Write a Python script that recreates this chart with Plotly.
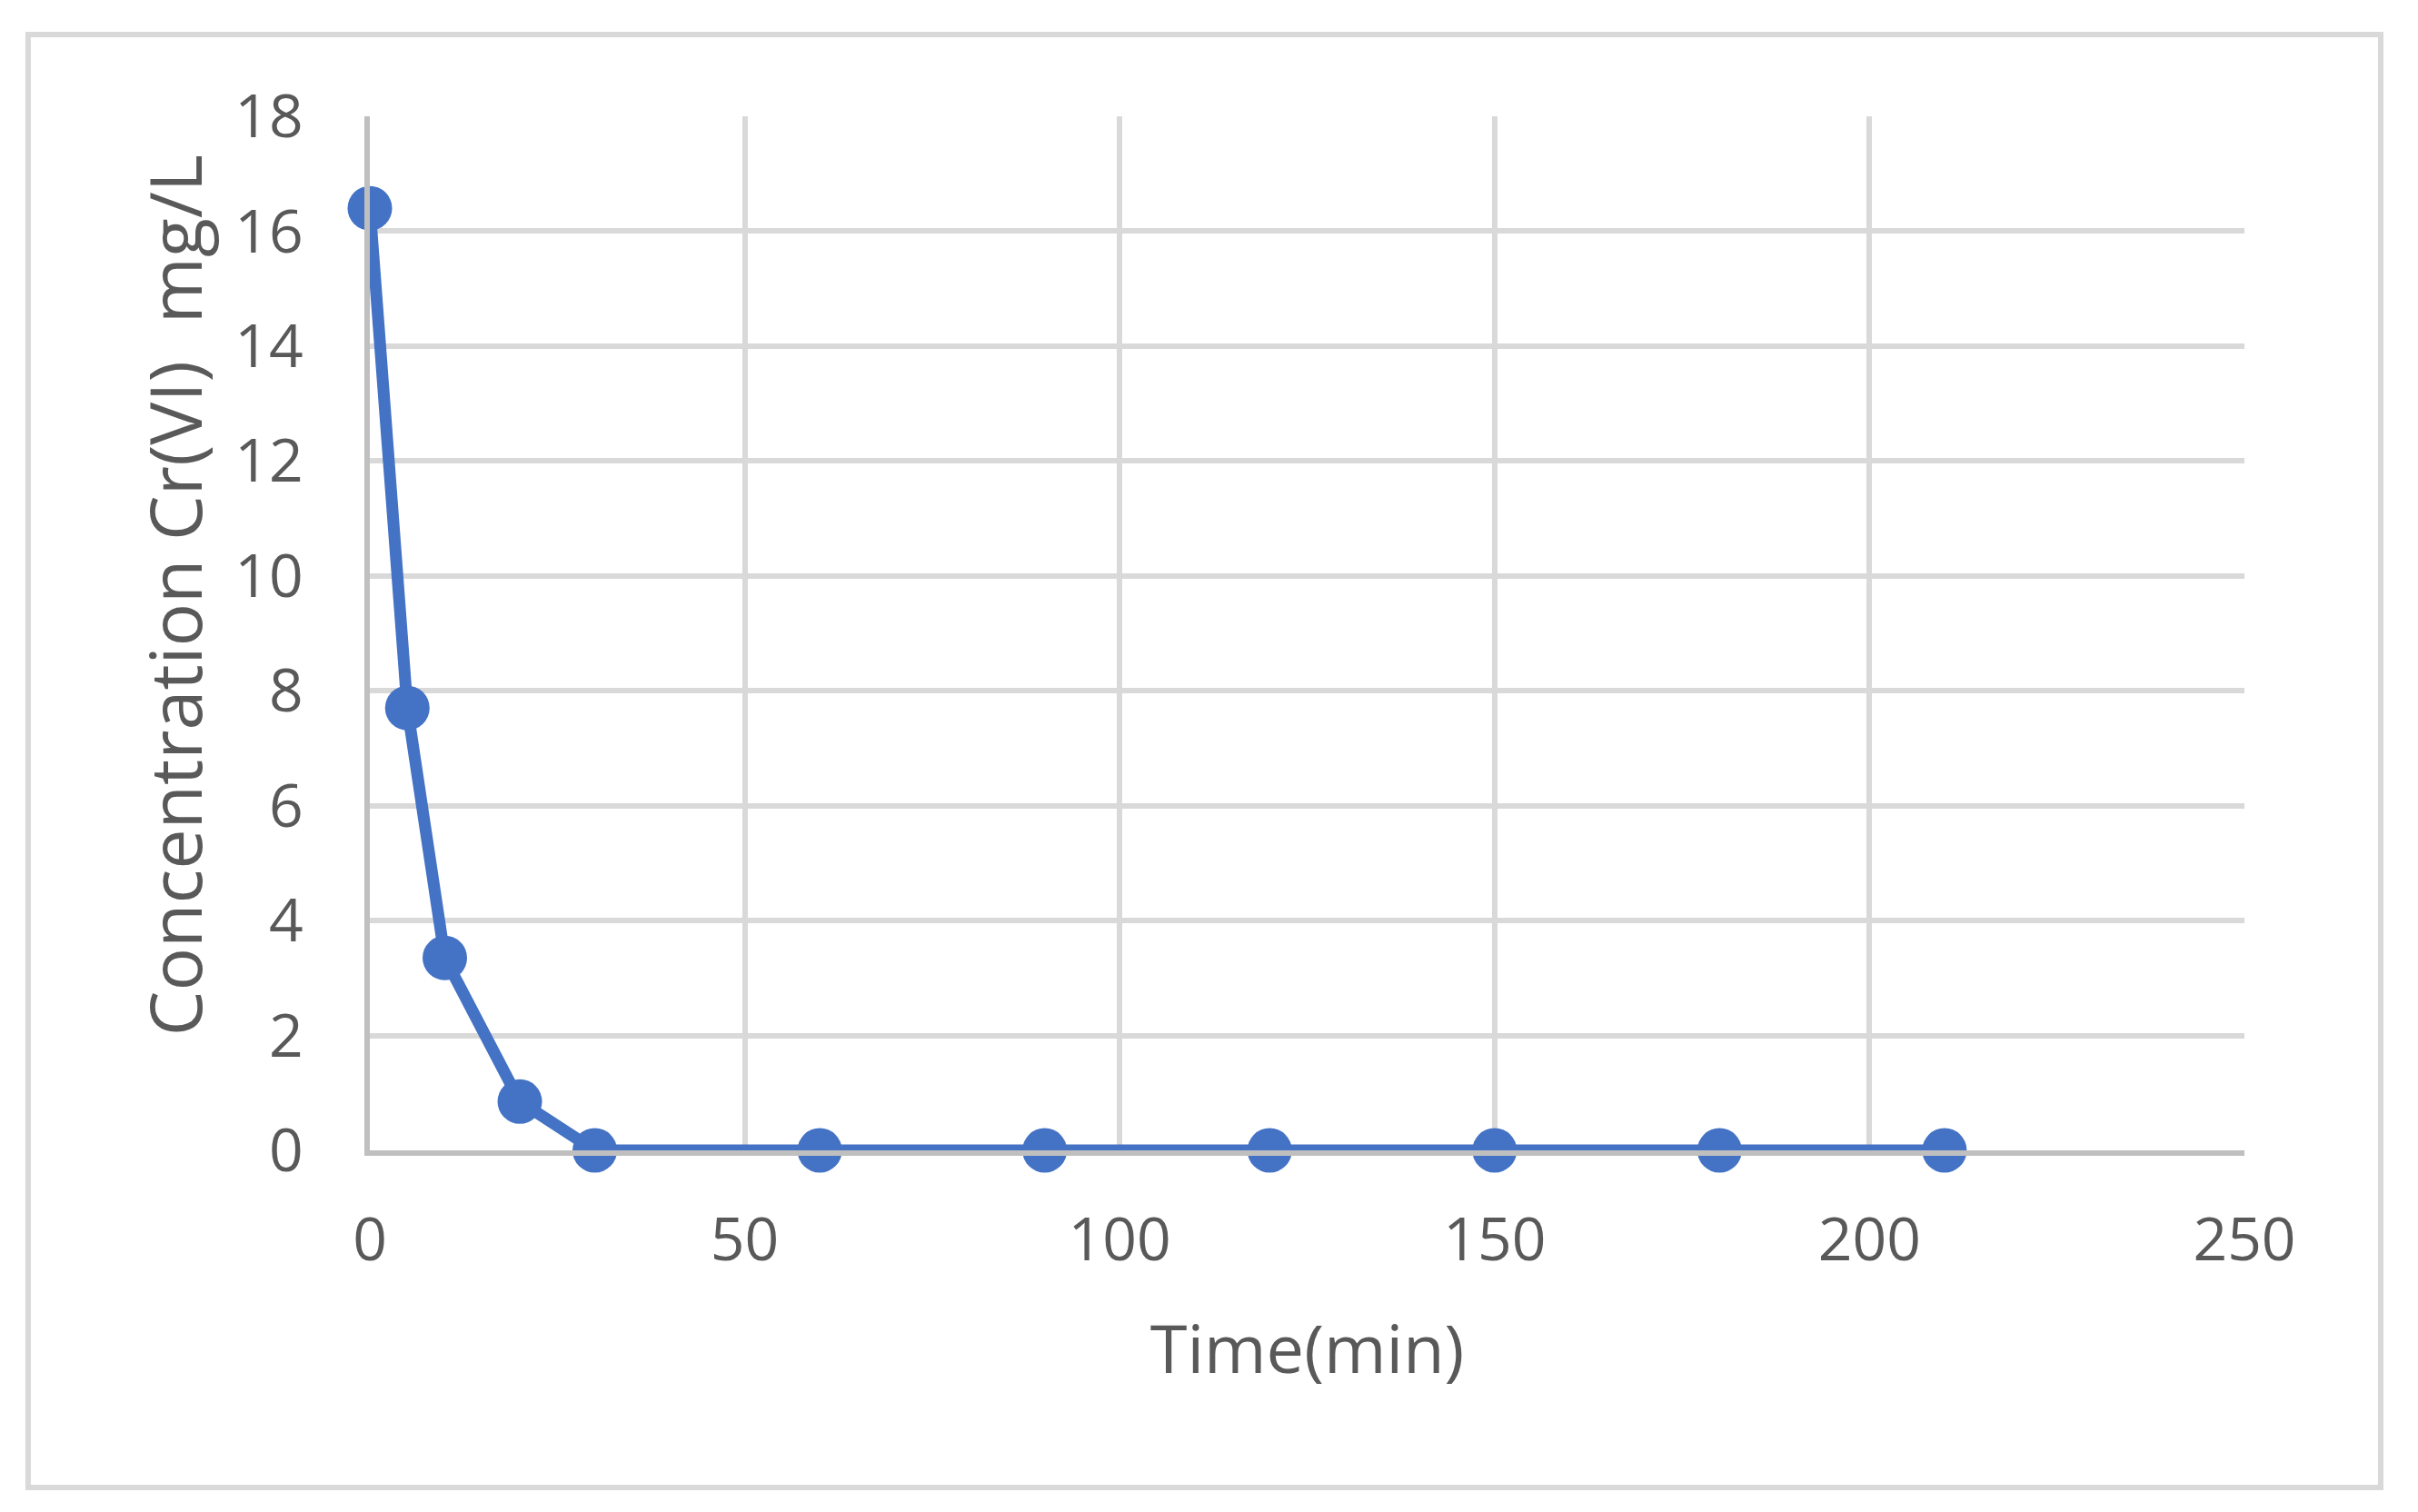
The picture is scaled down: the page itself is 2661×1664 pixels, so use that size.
import plotly.graph_objects as go

# Cr(VI) concentration over time
time_min = [0, 5, 10, 20, 30, 60, 90, 120, 150, 180, 210]
conc_mg_l = [16.4, 7.7, 3.35, 0.85, 0, 0, 0, 0, 0, 0, 0]

x_ticks = [0, 50, 100, 150, 200, 250]
y_ticks = [0, 2, 4, 6, 8, 10, 12, 14, 16, 18]

BLUE = "#4472C4"
GRID = "#D9D9D9"
AXIS = "#BFBFBF"
TEXT = "#595959"
FONT = "Open Sans"

fig = go.Figure()
fig.add_trace(
    go.Scatter(
        x=time_min,
        y=conc_mg_l,
        mode="lines+markers",
        line=dict(color=BLUE, width=13),
        marker=dict(color=BLUE, size=49),
        cliponaxis=False,
        showlegend=False,
    )
)

# page body has an 8px margin, so the figure is a bit smaller than the window
fig.update_layout(
    width=2645,
    height=1648,
    margin=dict(l=399, r=183, t=120, b=390),
    paper_bgcolor="white",
    plot_bgcolor="white",
    font=dict(family=FONT, color=TEXT, size=66),
    xaxis=dict(
        range=[0, 250],
        tickvals=x_ticks,
        showgrid=True,
        gridcolor=GRID,
        gridwidth=6,
        showline=True,
        linecolor=AXIS,
        linewidth=6,
        zeroline=False,
        ticks="outside",
        ticklen=36,
        tickcolor="rgba(0,0,0,0)",
        tickfont=dict(size=66, color=TEXT),
        title=dict(text="Time(min)", font=dict(size=74, color=TEXT), standoff=56),
    ),
    yaxis=dict(
        range=[0, 18],
        tickvals=y_ticks,
        showgrid=True,
        gridcolor=GRID,
        gridwidth=6,
        showline=True,
        linecolor=AXIS,
        linewidth=6,
        zeroline=False,
        ticks="outside",
        ticklen=54,
        tickcolor="rgba(0,0,0,0)",
        tickfont=dict(size=66, color=TEXT),
    ),
    annotations=[
        dict(
            text="Concentration Cr(VI)  mg/L",
            xref="paper",
            yref="paper",
            x=-0.1045,
            y=0.537,
            xanchor="center",
            yanchor="middle",
            textangle=-90,
            showarrow=False,
            font=dict(size=79, color=TEXT),
        )
    ],
    shapes=[
        dict(
            type="rect",
            xref="paper",
            yref="paper",
            x0=-0.1823,
            x1=1.0727,
            y0=-0.326,
            y1=1.0791,
            line=dict(color=GRID, width=6),
            fillcolor="rgba(0,0,0,0)",
            layer="below",
        )
    ],
)

fig.write_html("out.html")
